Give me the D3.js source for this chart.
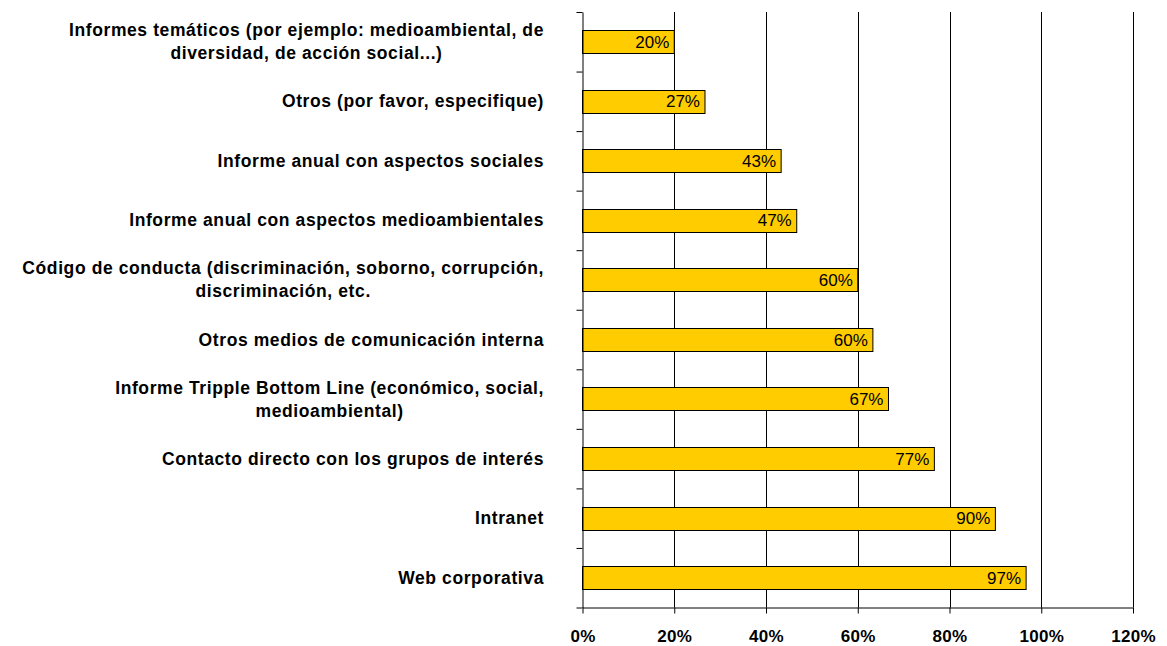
<!DOCTYPE html>
<html>
<head>
<meta charset="utf-8">
<script src="https://cdn.jsdelivr.net/npm/d3@7"></script>
<style>
  body { margin: 0; background: #fff; }
  text { font-family: "Liberation Sans", Arial, sans-serif; }
</style>
</head>
<body>
<div id="chart"></div>
<script>
// categories, top to bottom; "|" marks a line break in the label
const categories = [
  "Informes temáticos (por ejemplo: medioambiental, de|diversidad, de acción social...)",
  "Otros (por favor, especifique)",
  "Informe anual con aspectos sociales",
  "Informe anual con aspectos medioambientales",
  "Código de conducta (discriminación, soborno, corrupción,|discriminación, etc.",
  "Otros medios de comunicación interna",
  "Informe Tripple Bottom Line (económico, social,|medioambiental)",
  "Contacto directo con los grupos de interés",
  "Intranet",
  "Web corporativa"
]
const values = [20, 26.7, 43.3, 46.7, 60, 63.3, 66.7, 76.7, 90, 96.7]
const value_labels = ["20%", "27%", "43%", "47%", "60%", "60%", "67%", "77%", "90%", "97%"]
const x_ticks = [0, 20, 40, 60, 80, 100, 120]

const width = 1167
const height = 646
const plot = { left: 582.5, right: 1133, top: 12, bottom: 607.5 }

const svg = d3.select("#chart")
  .append("svg")
  .attr("width", width)
  .attr("height", height)

const x = d3.scaleLinear()
  .domain([0, 120])
  .range([plot.left, plot.right])

const y = d3.scaleBand()
  .domain(categories)
  .range([plot.top, plot.bottom])
  .paddingInner(0.61)
  .paddingOuter(0.305)

// vertical gridlines
svg.append("g")
  .selectAll("line")
  .data(x_ticks.slice(1))
  .join("line")
  .attr("x1", d => Math.round(x(d)) + 0.5)
  .attr("x2", d => Math.round(x(d)) + 0.5)
  .attr("y1", plot.top)
  .attr("y2", plot.bottom)
  .attr("stroke", "#000")
  .attr("stroke-width", 1)

// bars
svg.append("g")
  .selectAll("rect")
  .data(values)
  .join("rect")
  .attr("x", plot.left)
  .attr("y", (d, i) => Math.round(y(categories[i])) + 0.5)
  .attr("width", d => x(d) - plot.left)
  .attr("height", Math.round(y.bandwidth()))
  .attr("fill", "#ffcc00")
  .attr("stroke", "#000")
  .attr("stroke-width", 1)

// value labels inside bar end
svg.append("g")
  .selectAll("text")
  .data(values)
  .join("text")
  .attr("x", d => x(d) - 5)
  .attr("y", (d, i) => y(categories[i]) + y.bandwidth() / 2 + 6)
  .attr("text-anchor", "end")
  .style("font-size", "17px")
  .style("fill", "#000")
  .text((d, i) => value_labels[i])

// left axis: ticks at band boundaries
const yIdx = d3.scaleLinear().domain([0, categories.length]).range([plot.top, plot.bottom])
svg.append("g")
  .attr("transform", `translate(${plot.left},0)`)
  .call(d3.axisLeft(yIdx).tickValues(d3.range(categories.length + 1)).tickFormat("").tickSize(6).tickSizeOuter(0))
  .call(g => g.select(".domain").attr("stroke", "#000"))

// bottom axis
const xAxis = svg.append("g")
  .attr("transform", `translate(0,${plot.bottom})`)
  .call(d3.axisBottom(x).tickValues(x_ticks).tickFormat(d => d + "%").tickSize(6).tickSizeOuter(0))
xAxis.select(".domain").attr("stroke", "#000")
xAxis.selectAll("text")
  .attr("y", 22)
  .attr("dy", "0.71em")
  .style("font-size", "17px")
  .style("font-weight", "bold")
  .style("letter-spacing", "0.3px")
  .style("font-family", "'Liberation Sans', Arial, sans-serif")
  .attr("fill", "#000")

// category labels (right aligned block, lines centered)
const lineHeight = 23
const labels = svg.append("g")
categories.forEach(cat => {
  const lines = cat.split("|")
  const cy = y(cat) + y.bandwidth() / 2
  const t = labels.append("text")
    .style("font-size", "17.5px")
    .style("font-weight", "bold")
    .style("letter-spacing", "0.6px")
    .style("fill", "#000")
  lines.forEach((ln, j) => {
    t.append("tspan")
      .attr("y", cy + 6 + (j - (lines.length - 1) / 2) * lineHeight)
      .text(ln)
  })
  // measure widest line, then center each line inside that block
  const spans = t.selectAll("tspan").nodes()
  const w = d3.max(spans, s => s.getComputedTextLength())
  const center = 544 - w / 2
  t.selectAll("tspan").attr("x", center).attr("text-anchor", "middle")
})
</script>
</body>
</html>
